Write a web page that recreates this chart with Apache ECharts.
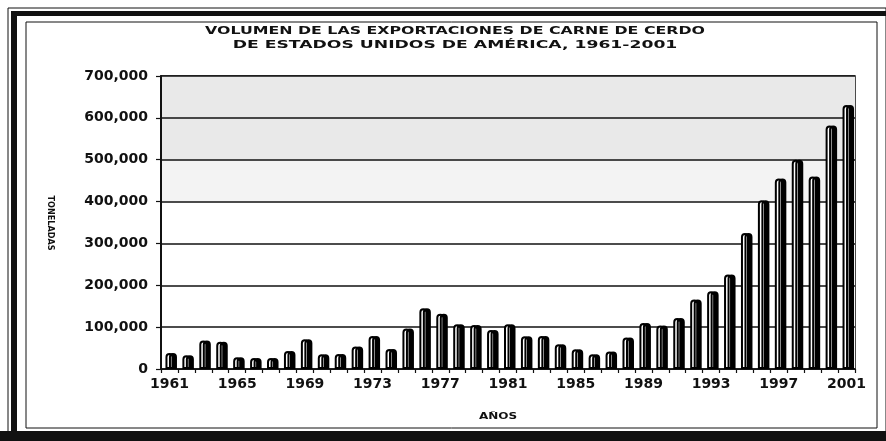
<!DOCTYPE html>
<html>
<head>
<meta charset="utf-8">
<script src="https://cdn.jsdelivr.net/npm/echarts@6/dist/echarts.min.js"></script>
<style>
  html, body { margin: 0; padding: 0; background: #fff; }
  #chart { width: 886px; height: 441px; }
</style>
</head>
<body>
<div id="chart"></div>
<script>
// años 1961-2001
const years = ['1961', '1962', '1963', '1964', '1965', '1966', '1967', '1968', '1969', '1970',
  '1971', '1972', '1973', '1974', '1975', '1976', '1977', '1978', '1979', '1980',
  '1981', '1982', '1983', '1984', '1985', '1986', '1987', '1988', '1989', '1990',
  '1991', '1992', '1993', '1994', '1995', '1996', '1997', '1998', '1999', '2000', '2001']

// toneladas exportadas
const volumes = [38000, 33000, 68000, 65000, 28000, 26000, 26000, 43000, 71000, 35000,
  36000, 54000, 79000, 48000, 97000, 145000, 132000, 107000, 105000, 93000,
  107000, 78000, 79000, 59000, 47000, 35000, 42000, 75000, 110000, 104000,
  122000, 166000, 186000, 226000, 325000, 403000, 455000, 500000, 460000, 582000, 631000]

const yMax = 700000
const yStep = 100000

// fondo punteado de las bandas superiores (0-100k ... 600-700k)
const bandColors = ['#fff', '#fff', '#fff', '#fff', '#f3f3f3', '#e9e9e9', '#e9e9e9']

const titleLines = [
  'VOLUMEN DE LAS EXPORTACIONES DE CARNE DE CERDO',
  'DE ESTADOS UNIDOS DE AMÉRICA, 1961-2001'
]

const FONT = '"DejaVu Sans", sans-serif'

const chart = echarts.init(document.getElementById('chart'), null, { renderer: 'canvas' })

chart.setOption({
  animation: false,
  backgroundColor: '#fff',
  grid: { left: 161, right: 31, top: 76, bottom: 72, show: true, borderColor: '#111', borderWidth: 1.5 },
  xAxis: {
    type: 'category',
    data: years,
    boundaryGap: true,
    axisLine: { lineStyle: { color: '#111', width: 1.5 } },
    axisTick: { show: true, interval: 0, length: 4, lineStyle: { color: '#111', width: 1.2 } },
    axisLabel: { interval: 3, color: '#111', fontFamily: FONT, fontWeight: 'bold', fontSize: 14, margin: 8 },
  },
  yAxis: {
    type: 'value',
    min: 0,
    max: yMax,
    interval: yStep,
    axisLine: { show: true, lineStyle: { color: '#111', width: 2 } },
    axisTick: { show: true, length: 5, lineStyle: { color: '#111', width: 1.2 } },
    axisLabel: {
      color: '#111', fontFamily: FONT, fontWeight: 'bold', fontSize: 14, margin: 13,
      formatter: v => v.toLocaleString('en-US'),
    },
    splitLine: { show: true, lineStyle: { color: '#111', width: 1.5 } },
    splitArea: { show: true, areaStyle: { color: bandColors } },
  },
  series: [{
    type: 'bar',
    data: volumes,
    barWidth: 8,
    itemStyle: {
      color: '#fff',
      borderColor: '#000',
      borderWidth: 2,
      borderRadius: [4, 4, 0, 0],
      shadowColor: '#000',
      shadowOffsetX: 3.5,
      shadowOffsetY: 0,
      shadowBlur: 0,
    },
    z: 3,
  }],
  graphic: [
    // marco exterior
    { type: 'rect', shape: { x: 8, y: 8, width: 878, height: 433 }, style: { fill: null, stroke: '#111', lineWidth: 1 }, silent: true },
    { type: 'rect', shape: { x: 11, y: 11, width: 6, height: 430 }, style: { fill: '#111' }, silent: true },
    { type: 'rect', shape: { x: 11, y: 11, width: 875, height: 5 }, style: { fill: '#111' }, silent: true },
    { type: 'rect', shape: { x: 0, y: 431, width: 886, height: 10 }, style: { fill: '#111' }, silent: true },
    // marco interior
    { type: 'rect', shape: { x: 26, y: 22, width: 851, height: 406 }, style: { fill: null, stroke: '#111', lineWidth: 1 }, silent: true },
    // título
    {
      type: 'text', x: 455, y: 31, scaleX: 1.58, silent: true,
      style: { text: titleLines[0], fill: '#111', font: 'bold 10px ' + FONT, textAlign: 'center', textVerticalAlign: 'middle' }
    },
    {
      type: 'text', x: 455, y: 45, scaleX: 1.72, silent: true,
      style: { text: titleLines[1], fill: '#111', font: 'bold 10px ' + FONT, textAlign: 'center', textVerticalAlign: 'middle' }
    },
    // ejes
    {
      type: 'text', x: 50, y: 223, rotation: -Math.PI / 2, silent: true,
      style: { text: 'TONELADAS', fill: '#111', font: 'bold 9px "DejaVu Sans Condensed", "Liberation Sans Narrow", sans-serif', textAlign: 'center', textVerticalAlign: 'middle' }
    },
    {
      type: 'text', x: 498, y: 417, scaleX: 1.5, silent: true,
      style: { text: 'AÑOS', fill: '#111', font: 'bold 8px ' + FONT, textAlign: 'center', textVerticalAlign: 'middle' }
    },
  ],
})
</script>
</body>
</html>
